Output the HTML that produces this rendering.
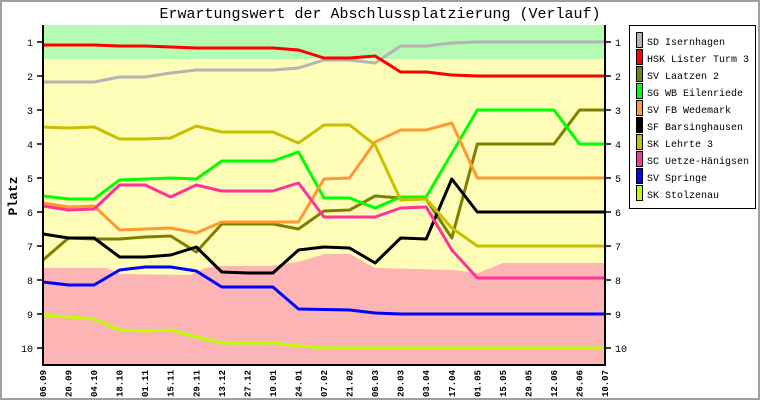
<!DOCTYPE html>
<html><head><meta charset="utf-8"><style>
html,body{margin:0;padding:0;background:#fff}
svg{display:block}
text{font-family:"Liberation Mono","DejaVu Sans Mono",monospace}
</style></head><body>
<svg width="760" height="400" viewBox="0 0 760 400" xmlns="http://www.w3.org/2000/svg">
<rect x="1" y="1" width="758" height="398" fill="#fff" stroke="#a0a0a0" stroke-width="2"/>
<text x="380" y="18" font-size="15" text-anchor="middle">Erwartungswert der Abschlussplatzierung (Verlauf)</text>
<rect x="43" y="25" width="562" height="340" fill="#fdfdb8"/>
<rect x="43" y="25" width="562" height="34" fill="#b4fbb4"/>
<polygon fill="#fdb4b4" points="43,268 107,268 120,274 190,275 205,268 222,266 270,266 298,262 325,254 350,254 375,268 452,270 478,273 503,263 605,263 605,365 43,365"/>
<g fill="none" stroke-width="3" stroke-linejoin="round">
<polyline stroke="#b4b4b4" points="43,82 68.5,82 94.1,82 119.6,77 145.2,77 170.7,73 196.3,70 221.8,70 247.4,70 272.9,70 298.5,68 324,60 349.6,60 375.1,63 400.7,46 426.2,46 451.8,43 477.3,42 605,42"/>
<polyline stroke="#ff0000" points="43,45 68.5,45 94.1,45 119.6,46 145.2,46 170.7,47 196.3,48 221.8,48 247.4,48 272.9,48 298.5,50 324,58 349.6,58 375.1,56 400.7,72 426.2,72 451.8,75 477.3,76 605,76"/>
<polyline stroke="#808000" points="43,260 68.5,238 94.1,239 119.6,239 145.2,237 170.7,236 196.3,252 221.8,224 247.4,224 272.9,224 298.5,229 324,211 349.6,210 375.1,196 400.7,198 426.2,199 451.8,238 477.3,144 554,144 579.5,110 605,110"/>
<polyline stroke="#00ff00" points="43,196 68.5,199 94.1,199 119.6,180 145.2,179 170.7,178 196.3,179 221.8,161 247.4,161 272.9,161 298.5,152 324,198 349.6,198 375.1,208 400.7,197 426.2,197 477.3,110 554,110 579.5,144 605,144"/>
<polyline stroke="#ff9933" points="43,203 68.5,207 94.1,206 119.6,230 145.2,229 170.7,228 196.3,233 221.8,222 298.5,222 324,179 349.6,178 375.1,142 400.7,130 426.2,130 451.8,123 477.3,178 605,178"/>
<polyline stroke="#000000" points="43,234 68.5,238 94.1,238 119.6,257 145.2,257 170.7,255 196.3,247 221.8,272 247.4,273 272.9,273 298.5,250 324,247 349.6,248 375.1,263 400.7,238 426.2,239 451.8,179 477.3,212 605,212"/>
<polyline stroke="#c8c000" points="43,127 68.5,128 94.1,127 119.6,139 145.2,139 170.7,138 196.3,126 221.8,132 272.9,132 298.5,143 324,125 349.6,125 375.1,145 400.7,200 426.2,199 451.8,228 477.3,246 605,246"/>
<polyline stroke="#ff3399" points="43,206 68.5,210 94.1,209 119.6,185 145.2,185 170.7,197 196.3,185 221.8,191 272.9,191 298.5,183 324,217 375.1,217 400.7,208 426.2,207 451.8,250 477.3,278 605,278"/>
<polyline stroke="#0000ff" points="43,282 68.5,285 94.1,285 119.6,270 145.2,267 170.7,267 196.3,271 221.8,287 272.9,287 298.5,309 349.6,310 375.1,313 400.7,314 605,314"/>
<polyline stroke="#c0ff00" points="43,315 68.5,317 94.1,319 119.6,330 145.2,331 170.7,330 196.3,337 221.8,343 272.9,343 298.5,346 324,348 605,348"/>
</g>
<g stroke="#000" stroke-width="2" fill="none">
<line x1="43" y1="25" x2="43" y2="366"/>
<line x1="605" y1="25" x2="605" y2="366"/>
<line x1="42" y1="365" x2="606" y2="365"/>
</g>
<g stroke="#000" stroke-width="1.5">
<line x1="37" y1="42" x2="43" y2="42"/><line x1="605" y1="42" x2="611" y2="42"/>
<line x1="37" y1="76" x2="43" y2="76"/><line x1="605" y1="76" x2="611" y2="76"/>
<line x1="37" y1="110" x2="43" y2="110"/><line x1="605" y1="110" x2="611" y2="110"/>
<line x1="37" y1="144" x2="43" y2="144"/><line x1="605" y1="144" x2="611" y2="144"/>
<line x1="37" y1="178" x2="43" y2="178"/><line x1="605" y1="178" x2="611" y2="178"/>
<line x1="37" y1="212" x2="43" y2="212"/><line x1="605" y1="212" x2="611" y2="212"/>
<line x1="37" y1="246" x2="43" y2="246"/><line x1="605" y1="246" x2="611" y2="246"/>
<line x1="37" y1="280" x2="43" y2="280"/><line x1="605" y1="280" x2="611" y2="280"/>
<line x1="37" y1="314" x2="43" y2="314"/><line x1="605" y1="314" x2="611" y2="314"/>
<line x1="37" y1="348" x2="43" y2="348"/><line x1="605" y1="348" x2="611" y2="348"/>
</g>
<g font-size="10" text-anchor="end">
<text x="33" y="46">1</text><text x="33" y="80">2</text><text x="33" y="114">3</text><text x="33" y="148">4</text><text x="33" y="182">5</text><text x="33" y="216">6</text><text x="33" y="250">7</text><text x="33" y="284">8</text><text x="33" y="318">9</text><text x="33" y="352">10</text>
</g>
<g font-size="10" text-anchor="start">
<text x="615" y="46">1</text><text x="615" y="80">2</text><text x="615" y="114">3</text><text x="615" y="148">4</text><text x="615" y="182">5</text><text x="615" y="216">6</text><text x="615" y="250">7</text><text x="615" y="284">8</text><text x="615" y="318">9</text><text x="615" y="352">10</text>
</g>
<text transform="translate(17,196) rotate(-90)" font-size="13" font-weight="bold" text-anchor="middle">Platz</text>
<g font-size="9" font-weight="bold" text-anchor="end">
<text transform="translate(46,370) rotate(-90)">06.09</text>
<text transform="translate(71.5,370) rotate(-90)">20.09</text>
<text transform="translate(97.1,370) rotate(-90)">04.10</text>
<text transform="translate(122.6,370) rotate(-90)">18.10</text>
<text transform="translate(148.2,370) rotate(-90)">01.11</text>
<text transform="translate(173.7,370) rotate(-90)">15.11</text>
<text transform="translate(199.3,370) rotate(-90)">29.11</text>
<text transform="translate(224.8,370) rotate(-90)">13.12</text>
<text transform="translate(250.4,370) rotate(-90)">27.12</text>
<text transform="translate(275.9,370) rotate(-90)">10.01</text>
<text transform="translate(301.5,370) rotate(-90)">24.01</text>
<text transform="translate(327,370) rotate(-90)">07.02</text>
<text transform="translate(352.6,370) rotate(-90)">21.02</text>
<text transform="translate(378.1,370) rotate(-90)">06.03</text>
<text transform="translate(403.7,370) rotate(-90)">20.03</text>
<text transform="translate(429.2,370) rotate(-90)">03.04</text>
<text transform="translate(454.8,370) rotate(-90)">17.04</text>
<text transform="translate(480.3,370) rotate(-90)">01.05</text>
<text transform="translate(505.9,370) rotate(-90)">15.05</text>
<text transform="translate(531.4,370) rotate(-90)">29.05</text>
<text transform="translate(557,370) rotate(-90)">12.06</text>
<text transform="translate(582.5,370) rotate(-90)">26.06</text>
<text transform="translate(608,370) rotate(-90)">10.07</text>
</g>
<rect x="629.5" y="25.5" width="126" height="183" fill="#fff" stroke="#000" stroke-width="1"/>
<g stroke="#000" stroke-width="1">
<rect x="636.5" y="32.5" width="6" height="15" fill="#b4b4b4"/>
<rect x="636.5" y="49.5" width="6" height="15" fill="#ff0000"/>
<rect x="636.5" y="66.5" width="6" height="15" fill="#808000"/>
<rect x="636.5" y="83.5" width="6" height="15" fill="#00ff00"/>
<rect x="636.5" y="100.5" width="6" height="15" fill="#ff9933"/>
<rect x="636.5" y="117.5" width="6" height="15" fill="#000000"/>
<rect x="636.5" y="134.5" width="6" height="15" fill="#c8c000"/>
<rect x="636.5" y="151.5" width="6" height="15" fill="#ff3399"/>
<rect x="636.5" y="168.5" width="6" height="15" fill="#0000ff"/>
<rect x="636.5" y="185.5" width="6" height="15" fill="#c0ff00"/>
</g>
<g font-size="10">
<text x="647" y="45">SD Isernhagen</text>
<text x="647" y="62">HSK Lister Turm 3</text>
<text x="647" y="79">SV Laatzen 2</text>
<text x="647" y="96">SG WB Eilenriede</text>
<text x="647" y="113">SV FB Wedemark</text>
<text x="647" y="130">SF Barsinghausen</text>
<text x="647" y="147">SK Lehrte 3</text>
<text x="647" y="164">SC Uetze-Hänigsen</text>
<text x="647" y="181">SV Springe</text>
<text x="647" y="198">SK Stolzenau</text>
</g>
</svg>
</body></html>
